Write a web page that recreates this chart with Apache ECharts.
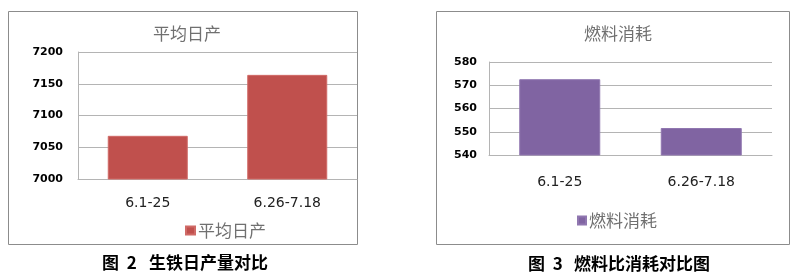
<!DOCTYPE html>
<html><head><meta charset="utf-8">
<script src="https://cdn.jsdelivr.net/npm/echarts@6/dist/echarts.min.js"></script>
<style>html,body{margin:0;padding:0;background:#fff}#c{width:798px;height:275px}</style>
</head><body><div id="c"></div>
<script>
const categories = ['6.1-25', '6.26-7.18'];
const outputName = '平均日产';
const outputValues = [7068, 7164];
const fuelName = '燃料消耗';
const fuelValues = [572.6, 551.6];
const outputTicks = [7000, 7200, 50];
const fuelTicks = [540, 580, 10];

const cjk = '"Noto Sans CJK SC", sans-serif';
const chart = echarts.init(document.getElementById('c'), null, {renderer: 'canvas'});
const yLabel = {fontFamily: 'DejaVu Sans', fontWeight: 'bold', fontSize: 11, color: '#000', formatter: v => String(v)};
const xLabel = {fontFamily: 'DejaVu Sans', fontSize: 14, color: '#222'};
const gridLine = {show: true, lineStyle: {color: '#b4b4b4', width: 1}};
const capStyle = {fontFamily: cjk, fontWeight: 'bold', fontSize: 17, color: '#000'};
const headStyle = {fontFamily: cjk, fontWeight: 'normal', fontSize: 17, color: '#707070'};
chart.setOption({
  animation: false,
  title: [
    {text: outputName, left: 182, top: 20, textAlign: 'center', textStyle: headStyle},
    {text: fuelName, left: 613, top: 20, textAlign: 'center', textStyle: headStyle},
    {text: '图  2', left: 102, top: 254, padding: 0, textStyle: capStyle},
    {text: '生铁日产量对比', left: 149, top: 254, padding: 0, textStyle: capStyle},
    {text: '图  3', left: 528, top: 255, padding: 0, textStyle: capStyle},
    {text: '燃料比消耗对比图', left: 574, top: 255, padding: 0, textStyle: capStyle}
  ],
  graphic: [
    {type: 'rect', shape: {x: 8.5, y: 11.5, width: 349, height: 233}, style: {fill: 'none', stroke: '#8c8c8c', lineWidth: 1}, z: -1},
    {type: 'rect', shape: {x: 436.5, y: 11.5, width: 353, height: 233}, style: {fill: 'none', stroke: '#8c8c8c', lineWidth: 1}, z: -1}
  ],
  legend: [
    {data: [outputName], left: 180, top: 217, itemWidth: 9, itemHeight: 8, itemGap: 4, icon: 'rect',
     textStyle: {fontFamily: cjk, fontSize: 17, color: '#707070', padding: [0, 0, 0, -2]}},
    {data: [fuelName], left: 572, top: 207, itemWidth: 8, itemHeight: 8, itemGap: 4, icon: 'rect',
     textStyle: {fontFamily: cjk, fontSize: 17, color: '#707070', padding: [0, 0, 0, -2]}}
  ],
  grid: [
    {left: 78, right: 441, top: 52, bottom: 96},
    {left: 489, right: 26, top: 62, bottom: 120}
  ],
  xAxis: [
    {type: 'category', gridIndex: 0, data: categories, axisTick: {show: false},
     axisLine: {lineStyle: {color: '#b4b4b4'}}, axisLabel: Object.assign({margin: 17}, xLabel)},
    {type: 'category', gridIndex: 1, data: categories, axisTick: {show: false},
     axisLine: {lineStyle: {color: '#b4b4b4'}}, axisLabel: Object.assign({margin: 20}, xLabel)}
  ],
  yAxis: [
    {type: 'value', gridIndex: 0, min: outputTicks[0], max: outputTicks[1], interval: outputTicks[2],
     axisLine: {show: true, lineStyle: {color: '#b4b4b4'}}, axisTick: {show: false},
     splitLine: gridLine, axisLabel: Object.assign({margin: 15}, yLabel)},
    {type: 'value', gridIndex: 1, min: fuelTicks[0], max: fuelTicks[1], interval: fuelTicks[2],
     axisLine: {show: true, lineStyle: {color: '#b4b4b4'}}, axisTick: {show: false},
     splitLine: gridLine, axisLabel: Object.assign({margin: 12}, yLabel)}
  ],
  series: [
    {name: outputName, type: 'bar', xAxisIndex: 0, yAxisIndex: 0, data: outputValues, barWidth: 80,
     itemStyle: {color: '#c0504d', borderColor: '#d06a67', borderWidth: 1}},
    {name: fuelName, type: 'bar', xAxisIndex: 1, yAxisIndex: 1, data: fuelValues, barWidth: 81,
     itemStyle: {color: '#8064a2', borderColor: '#9077b0', borderWidth: 1}}
  ]
});
</script></body></html>
